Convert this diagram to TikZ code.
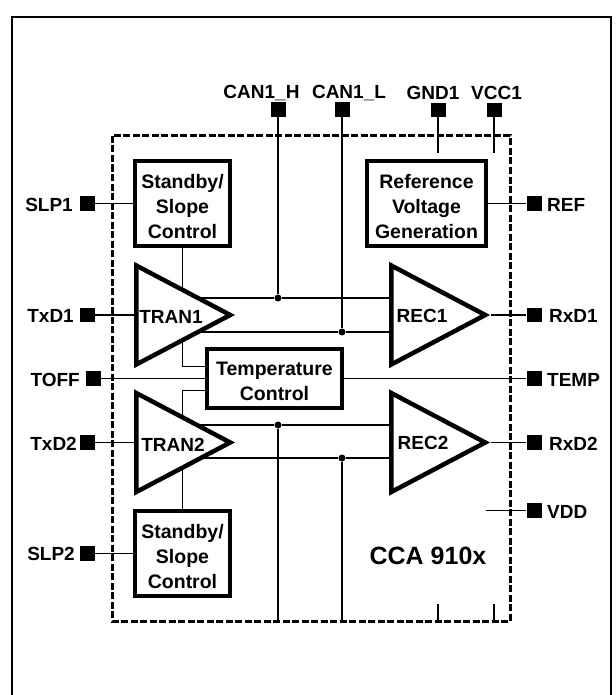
\documentclass[tikz,border=0pt]{standalone}
\usepackage{fontspec}
\setmainfont{Liberation Sans}
\usetikzlibrary{shapes.geometric,backgrounds}
\newcommand{\topgap}{\rule{0pt}{20pt}}
\tikzset{
  padbox/.style={draw=none,fill=black,minimum width=15pt,minimum height=14.5pt,inner sep=0pt},
  blockbox/.style={draw,line width=4.5pt,fill=white,inner sep=0pt,align=center,font=\fontsize{19.5}{25}\selectfont\bfseries},
  amptri/.style={draw,line width=4.5pt,fill=white,inner sep=0pt,isosceles triangle,isosceles triangle stretches,
    minimum width=99pt,minimum height=94pt,anchor=lower side},
  wire/.style={line width=1.6pt},
  junction/.style={circle,fill=black,minimum size=7pt,inner sep=0pt},
  caption/.style={font=\fontsize{19}{22}\selectfont\bfseries,inner sep=0pt},
}
\begin{document}
\begin{tikzpicture}[x=1pt,y=-1pt]
  \useasboundingbox (0,0) rectangle (615,695);
  % Frame
  \draw[line width=2pt] (12,695) -- (12,17) -- (611,17) -- (611,695);
  % Blocks
  \node[blockbox,minimum width=95pt,minimum height=85pt] (stby1) at (182.5,203.5) {\topgap Standby/\\Slope\\Control};
  \node[blockbox,minimum width=95pt,minimum height=85pt] (stby2) at (182.5,553.5) {\topgap Standby/\\Slope\\Control};
  \node[blockbox,minimum width=119pt,minimum height=85pt] (vref) at (426.5,203.5) {\topgap Reference\\Voltage\\Generation};
  \node[blockbox,minimum width=135pt,minimum height=59pt] (temp) at (274.5,378.5) {\topgap Temperature\\Control};
  % Amplifiers
  \node[amptri] (tran1) at (134,315) {};
  \node[amptri] (rec1) at (389,315) {};
  \node[amptri] (tran2) at (134,442.5) {};
  \node[amptri] (rec2) at (389,442.5) {};
  \node[caption] (tran1t) at (171,317) {TRAN1};
  \node[caption] (rec1t) at (422,316) {REC1};
  \node[caption] (tran2t) at (173,445) {TRAN2};
  \node[caption] (rec2t) at (423,443) {REC2};
  % Pad names
  \node[caption] (canht) at (261.5,93) {CAN1\_H};
  \node[caption] (canlt) at (349,93) {CAN1\_L};
  \node[caption] (gndt) at (433,93) {GND1};
  \node[caption] (vcct) at (496.5,93) {VCC1};
  \node[caption,anchor=east] (slp1t) at (73,205) {SLP1};
  \node[caption,anchor=east] (txd1t) at (74,316) {TxD1};
  \node[caption,anchor=east] (tofft) at (80,379.5) {TOFF};
  \node[caption,anchor=east] (txd2t) at (77,444) {TxD2};
  \node[caption,anchor=east] (slp2t) at (75,554) {SLP2};
  \node[caption,anchor=west] (reft) at (547,205) {REF};
  \node[caption,anchor=west] (rxd1t) at (549,316) {RxD1};
  \node[caption,anchor=west] (tempt) at (547,379.5) {TEMP};
  \node[caption,anchor=west] (rxd2t) at (549,444) {RxD2};
  \node[caption,anchor=west] (vddt) at (547,512) {VDD};
  \node[caption,font=\fontsize{25}{28}\selectfont\bfseries] (part) at (428,556) {CCA 910x};
  % Pads
  \node[padbox] (canh) at (278,109.5) {};
  \node[padbox] (canl) at (342,109.5) {};
  \node[padbox] (gnd) at (438,110) {};
  \node[padbox] (vcc) at (494,110) {};
  \node[padbox] (slp1) at (87.5,203.5) {};
  \node[padbox] (txd1) at (87.5,315) {};
  \node[padbox] (toff) at (93.5,378.5) {};
  \node[padbox] (txd2) at (87.5,442.5) {};
  \node[padbox] (slp2) at (87.5,553.5) {};
  \node[padbox] (ref) at (534,203.5) {};
  \node[padbox] (rxd1) at (534,315) {};
  \node[padbox] (tempp) at (534,378.5) {};
  \node[padbox] (rxd2) at (534,442.5) {};
  \node[padbox] (vdd) at (534,510.5) {};
  % Junctions
  \node[junction] (jh1) at (278,298) {};
  \node[junction] (jl1) at (342,332) {};
  \node[junction] (jh2) at (278,425) {};
  \node[junction] (jl2) at (342,458) {};
  % Open wire ends
  \coordinate (gndin) at (438,153);
  \coordinate (vccin) at (494,153);
  \coordinate (gndout) at (438,604);
  \coordinate (vccout) at (494,604);
  \coordinate (gndlow) at (438,621);
  \coordinate (vcclow) at (494,621);
  \coordinate (canhlow) at (278,621);
  \coordinate (canllow) at (342,621);
  \coordinate (vddin) at (486,510.5);
  \begin{scope}[on background layer]
    % Outline
    \draw[line width=3pt,dash pattern=on 7pt off 2.5pt] (112,136) rectangle (510,621);
    % Wires
    \draw[wire] (canh) -- (jh1);
    \draw[wire] (canl) -- (jl1);
    \draw[wire] (gnd) -- (gndin);
    \draw[wire] (vcc) -- (vccin);
    \draw[wire] (slp1) -- (stby1);
    \draw[wire] (txd1) -- (tran1.lower side);
    \draw[wire] (stby1) -- (stby1 |- tran1.lower side);
    \draw[wire] (tran1.center |- jh1) -- (jh1) -- (rec1.center |- jh1);
    \draw[wire] (tran1.center |- jl1) -- (jl1) -- (rec1.center |- jl1);
    \draw[wire] (rec1.apex) -- (rxd1);
    \draw[wire] (vref) -- (ref);
    \draw[wire] (toff) -- (temp);
    \draw[wire] (temp) -- (tempp);
    \draw[wire] (stby1.center |- tran1.lower side) |- ([yshift=12pt]temp.west);
    \draw[wire] (stby1.center |- tran2.lower side) |- ([yshift=-12pt]temp.west);
    \draw[wire] (txd2) -- (tran2.lower side);
    \draw[wire] (stby2) -- (stby2 |- tran2.lower side);
    \draw[wire] (tran2.center |- jh2) -- (jh2) -- (rec2.center |- jh2);
    \draw[wire] (tran2.center |- jl2) -- (jl2) -- (rec2.center |- jl2);
    \draw[wire] (jh2) -- (canhlow);
    \draw[wire] (jl2) -- (canllow);
    \draw[wire] (rec2.apex) -- (rxd2);
    \draw[wire] (slp2) -- (stby2);
    \draw[wire] (vddin) -- (vdd);
    \draw[wire] (gndout) -- (gndlow);
    \draw[wire] (vccout) -- (vcclow);
  \end{scope}
\end{tikzpicture}
\end{document}
